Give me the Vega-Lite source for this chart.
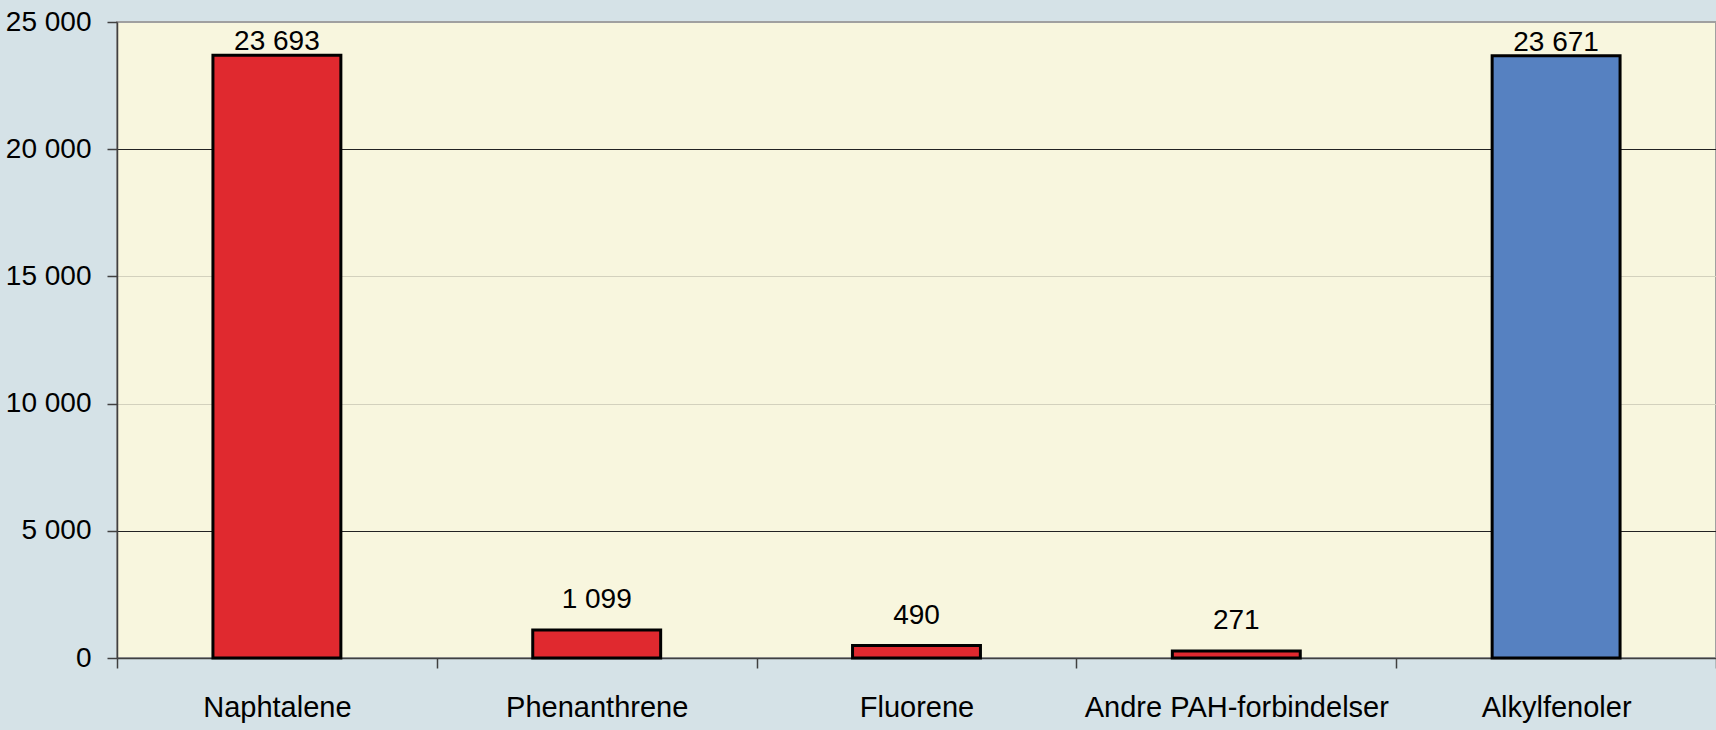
{
  "$schema": "https://vega.github.io/schema/vega-lite/v6.json",
  "width": 1599,
  "height": 636,
  "autosize": "none",
  "padding": {"left": 117, "top": 22, "right": 0, "bottom": 72},
  "background": "#d5e2e7",
  "config": {
    "locale": {"number": {"decimal": ",", "thousands": " ", "grouping": [3], "currency": ["", ""]}},
    "view": {"fill": "#f8f6de", "stroke": "#a0a0a0", "strokeWidth": 2},
    "font": "Liberation Sans"
  },
  "data": {
    "values": [
      {"stoff": "Naphtalene", "mengde": 23693, "gruppe": "PAH"},
      {"stoff": "Phenanthrene", "mengde": 1099, "gruppe": "PAH"},
      {"stoff": "Fluorene", "mengde": 490, "gruppe": "PAH"},
      {"stoff": "Andre PAH-forbindelser", "mengde": 271, "gruppe": "PAH"},
      {"stoff": "Alkylfenoler", "mengde": 23671, "gruppe": "Alkylfenoler"}
    ]
  },
  "encoding": {
    "x": {
      "field": "stoff",
      "type": "nominal",
      "sort": null,
      "scale": {"paddingInner": 0, "paddingOuter": 0},
      "axis": {
        "title": null,
        "labelAngle": 0,
        "labelFontSize": 29,
        "labelColor": "#000000",
        "labelPadding": 25,
        "labelLimit": 0,
        "tickBand": "extent",
        "tickSize": 10,
        "tickColor": "#404040",
        "tickWidth": 1.5,
        "domainColor": "#404040",
        "domainWidth": 1.5,
        "grid": false
      }
    },
    "y": {
      "field": "mengde",
      "type": "quantitative",
      "scale": {"domain": [0, 25000], "nice": false},
      "axis": {
        "title": null,
        "values": [0, 5000, 10000, 15000, 20000, 25000],
        "format": ",d",
        "labelFontSize": 28,
        "labelColor": "#000000",
        "labelPadding": 16,
        "tickSize": 10,
        "tickColor": "#404040",
        "tickWidth": 1.5,
        "domainColor": "#404040",
        "domainWidth": 1.5,
        "grid": true,
        "gridColor": {"condition": {"test": "datum.value === 10000 || datum.value === 15000", "value": "#d3d1bd"}, "value": "#222222"},
        "gridOpacity": {"condition": {"test": "datum.value === 0 || datum.value === 25000", "value": 0}, "value": 1},
        "gridWidth": 1.2
      }
    }
  },
  "layer": [
    {
      "mark": {"type": "bar", "stroke": "#000000", "strokeWidth": 3, "width": {"band": 0.4}},
      "encoding": {
        "color": {
          "field": "gruppe",
          "type": "nominal",
          "scale": {"domain": ["PAH", "Alkylfenoler"], "range": ["#e0292f", "#5681c1"]},
          "legend": null
        }
      }
    },
    {
      "transform": [{"filter": "datum.mengde > 20000"}],
      "mark": {"type": "text", "fontSize": 28, "baseline": "alphabetic", "dy": -5, "color": "#000000"},
      "encoding": {
        "text": {"field": "mengde", "type": "quantitative", "format": ",d"}
      }
    },
    {
      "transform": [{"filter": "datum.mengde <= 20000"}],
      "mark": {"type": "text", "fontSize": 28, "baseline": "alphabetic", "dy": -22, "color": "#000000"},
      "encoding": {
        "text": {"field": "mengde", "type": "quantitative", "format": ",d"}
      }
    }
  ]
}
